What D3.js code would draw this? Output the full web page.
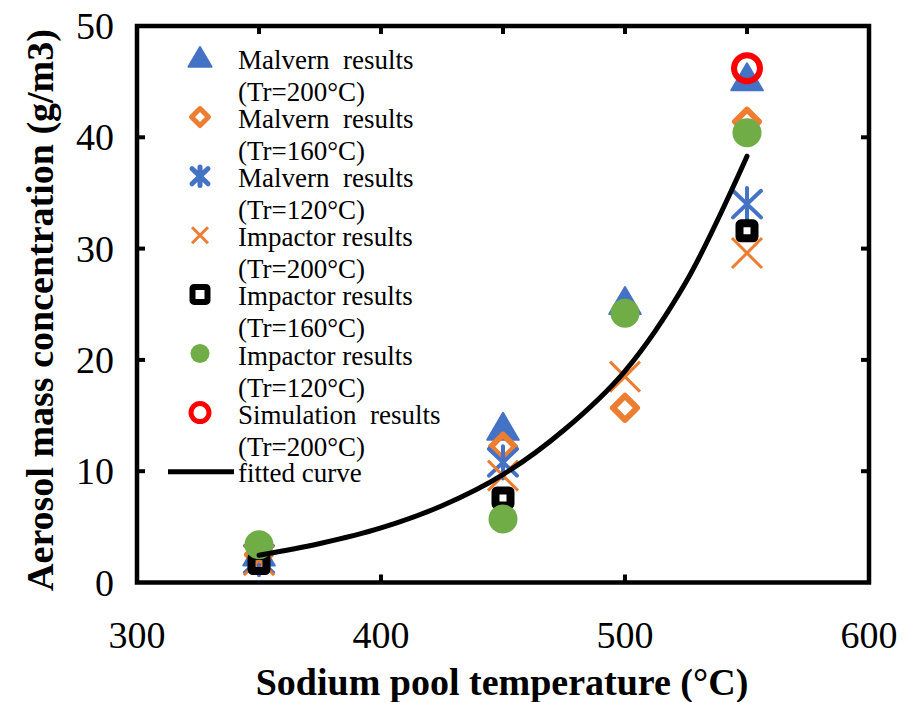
<!DOCTYPE html>
<html>
<head>
<meta charset="utf-8">
<script src="https://cdn.jsdelivr.net/npm/d3@7/dist/d3.min.js"></script>
<style>
  html, body { margin: 0; padding: 0; background: #fff; }
  svg { display: block; }
  text { font-family: "Liberation Serif", "Times New Roman", serif; fill: #000; }
</style>
</head>
<body>
<svg id="chart" width="909" height="702"></svg>
<script>
// Measured aerosol mass concentration (g/m3) by sodium pool temperature (°C)
const temps = [350, 450, 500, 550];
const malvern200  = [2.6, 13.9, 25.2, 45.3];
const malvern160  = [2.5, 12.2, 15.7, 41.4];
const malvern120  = [2.1, 10.8, null, 34.0];
const impactor200 = [2.0, 9.6, 18.5, 29.6];
const impactor160 = [1.7, 7.6, null, 31.6];
const impactor120 = [3.4, 5.7, 24.2, 40.4];
const simTemps = [550];
const simulation200 = [46.2];

// Fitted curve sampled along the temperature range
const fitTemps  = [350, 375, 400, 425, 450, 475, 500, 525, 550];
const fitValues = [2.45, 3.5, 4.9, 6.9, 9.7, 13.7, 19.0, 27.0, 38.3];

const xTicks = [300, 400, 500, 600];
const yTicks = [0, 10, 20, 30, 40, 50];

const blue = "#4472C4", orange = "#ED7D31", green = "#70AD47", red = "#FF0000";

const svg = d3.select("#chart");
const plotLeft = 137, plotRight = 869, plotTop = 26, plotBottom = 582.5;
const x = d3.scaleLinear().domain([300, 600]).range([plotLeft, plotRight]);
const y = d3.scaleLinear().domain([0, 50]).range([plotBottom, plotTop]);

// Custom marker shapes (size = half-extent in px)
const shapes = {
  triangle: (g, s, c) => g.append("path")
    .attr("d", `M0,${-s}L${s * 1.05},${s * 0.8}L${-s * 1.05},${s * 0.8}Z`)
    .attr("fill", c).attr("stroke", c).attr("stroke-width", 2).attr("stroke-linejoin", "round"),
  diamond: (g, s, c, w) => g.append("path")
    .attr("d", `M0,${-s}L${s},0L0,${s}L${-s},0Z`)
    .attr("fill", "none").attr("stroke", c).attr("stroke-width", w).attr("stroke-linejoin", "round"),
  star: (g, s, c, w) => g.append("path")
    .attr("d", `M0,${-s * 1.15}L0,${s * 1.15}M${-s},${-s * 0.95}L${s},${s * 0.95}M${s},${-s * 0.95}L${-s},${s * 0.95}`)
    .attr("fill", "none").attr("stroke", c).attr("stroke-width", w).attr("stroke-linecap", "round"),
  cross: (g, s, c, w) => g.append("path")
    .attr("d", `M${-s},${-s}L${s},${s}M${s},${-s}L${-s},${s}`)
    .attr("fill", "none").attr("stroke", c).attr("stroke-width", w),
  square: (g, s, c, w) => g.append("rect")
    .attr("x", -s).attr("y", -s).attr("width", 2 * s).attr("height", 2 * s).attr("rx", 1.5)
    .attr("fill", "none").attr("stroke", c).attr("stroke-width", w),
  dot: (g, s, c) => g.append("circle").attr("r", s).attr("fill", c),
  ring: (g, s, c, w) => g.append("circle").attr("r", s)
    .attr("fill", "none").attr("stroke", c).attr("stroke-width", w)
};

const series = [
  { name: "Malvern  results", tr: "(Tr=200°C)", xs: temps, ys: malvern200, shape: "triangle", color: blue, size: 15, w: 0, ls: 11, lw: 0 },
  { name: "Malvern  results", tr: "(Tr=160°C)", xs: temps, ys: malvern160, shape: "diamond", color: orange, size: 12, w: 6, ls: 8.5, lw: 5 },
  { name: "Malvern  results", tr: "(Tr=120°C)", xs: temps, ys: malvern120, shape: "star", color: blue, size: 14, w: 4, ls: 8, lw: 5 },
  { name: "Impactor results", tr: "(Tr=200°C)", xs: temps, ys: impactor200, shape: "cross", color: orange, size: 15, w: 3, ls: 8, lw: 3 },
  { name: "Impactor results", tr: "(Tr=160°C)", xs: temps, ys: impactor160, shape: "square", color: "#000", size: 7.5, w: 8, ls: 7.5, lw: 6 },
  { name: "Impactor results", tr: "(Tr=120°C)", xs: temps, ys: impactor120, shape: "dot", color: green, size: 14.5, w: 0, ls: 9.5, lw: 0 },
  { name: "Simulation  results", tr: "(Tr=200°C)", xs: simTemps, ys: simulation200, shape: "ring", color: red, size: 13, w: 6, ls: 9, lw: 5 }
];

// Plot frame
svg.append("rect")
  .attr("x", plotLeft).attr("y", plotTop)
  .attr("width", plotRight - plotLeft).attr("height", plotBottom - plotTop)
  .attr("fill", "none").attr("stroke", "#000").attr("stroke-width", 4.5);

// Inward tick marks on all four sides
const tickLen = 8;
const tickG = svg.append("g").attr("stroke", "#000").attr("stroke-width", 4);
[400, 500].forEach(t => tickG.append("line")
  .attr("x1", x(t)).attr("x2", x(t)).attr("y1", plotBottom).attr("y2", plotBottom - tickLen));
[350, 400, 450, 500, 550].forEach(t => tickG.append("line")
  .attr("x1", x(t)).attr("x2", x(t)).attr("y1", plotTop).attr("y2", plotTop + tickLen));
[10, 20, 30, 40].forEach(t => {
  tickG.append("line").attr("x1", plotLeft).attr("x2", plotLeft + tickLen).attr("y1", y(t)).attr("y2", y(t));
  tickG.append("line").attr("x1", plotRight).attr("x2", plotRight - tickLen).attr("y1", y(t)).attr("y2", y(t));
});

// Tick labels
svg.append("g").selectAll("text").data(xTicks).join("text")
  .attr("x", d => x(d)).attr("y", 648)
  .attr("text-anchor", "middle").attr("font-size", 38)
  .text(d => d);
svg.append("g").selectAll("text").data(yTicks).join("text")
  .attr("x", 114).attr("y", d => y(d) + 13)
  .attr("text-anchor", "end").attr("font-size", 38)
  .text(d => d);

// Axis titles
svg.append("text")
  .attr("x", 502).attr("y", 695)
  .attr("text-anchor", "middle").attr("font-size", 38).attr("font-weight", "bold")
  .text("Sodium pool temperature (°C)");
svg.append("text")
  .attr("transform", "translate(53,310) rotate(-90)")
  .attr("text-anchor", "middle").attr("font-size", 38).attr("font-weight", "bold")
  .text("Aerosol mass concentration (g/m3)");

// Data markers
const plot = svg.append("g");
series.forEach(s => {
  s.xs.forEach((t, i) => {
    const v = s.ys[i];
    if (v == null) return;
    const g = plot.append("g").attr("transform", `translate(${x(t)},${y(v)})`);
    shapes[s.shape](g, s.size, s.color, s.w);
  });
});

// Fitted curve
const line = d3.line()
  .x((d, i) => x(fitTemps[i]))
  .y(d => y(d))
  .curve(d3.curveCatmullRom);
svg.append("path")
  .datum(fitValues)
  .attr("d", line)
  .attr("fill", "none").attr("stroke", "#000").attr("stroke-width", 5)
  .attr("stroke-linecap", "round");

// Legend
const legend = svg.append("g");
const legStep = 59.1, legTop = 60, lineGap = 32, textX = 238, markX = 200;
series.forEach((s, k) => {
  const cy = legTop + k * legStep;
  const g = legend.append("g").attr("transform", `translate(${markX},${cy - 2})`);
  shapes[s.shape](g, s.ls, s.color, s.lw);
  legend.append("text").attr("x", textX).attr("y", cy + 9)
    .attr("font-size", 27).style("white-space", "pre").text(s.name);
  legend.append("text").attr("x", textX).attr("y", cy + lineGap + 9)
    .attr("font-size", 27).text(s.tr);
});
const fy = legTop + series.length * legStep - 2;
legend.append("line")
  .attr("x1", 168).attr("x2", 234).attr("y1", fy).attr("y2", fy)
  .attr("stroke", "#000").attr("stroke-width", 5);
legend.append("text").attr("x", textX).attr("y", fy + 10)
  .attr("font-size", 27).text("fitted curve");
</script>
</body>
</html>
